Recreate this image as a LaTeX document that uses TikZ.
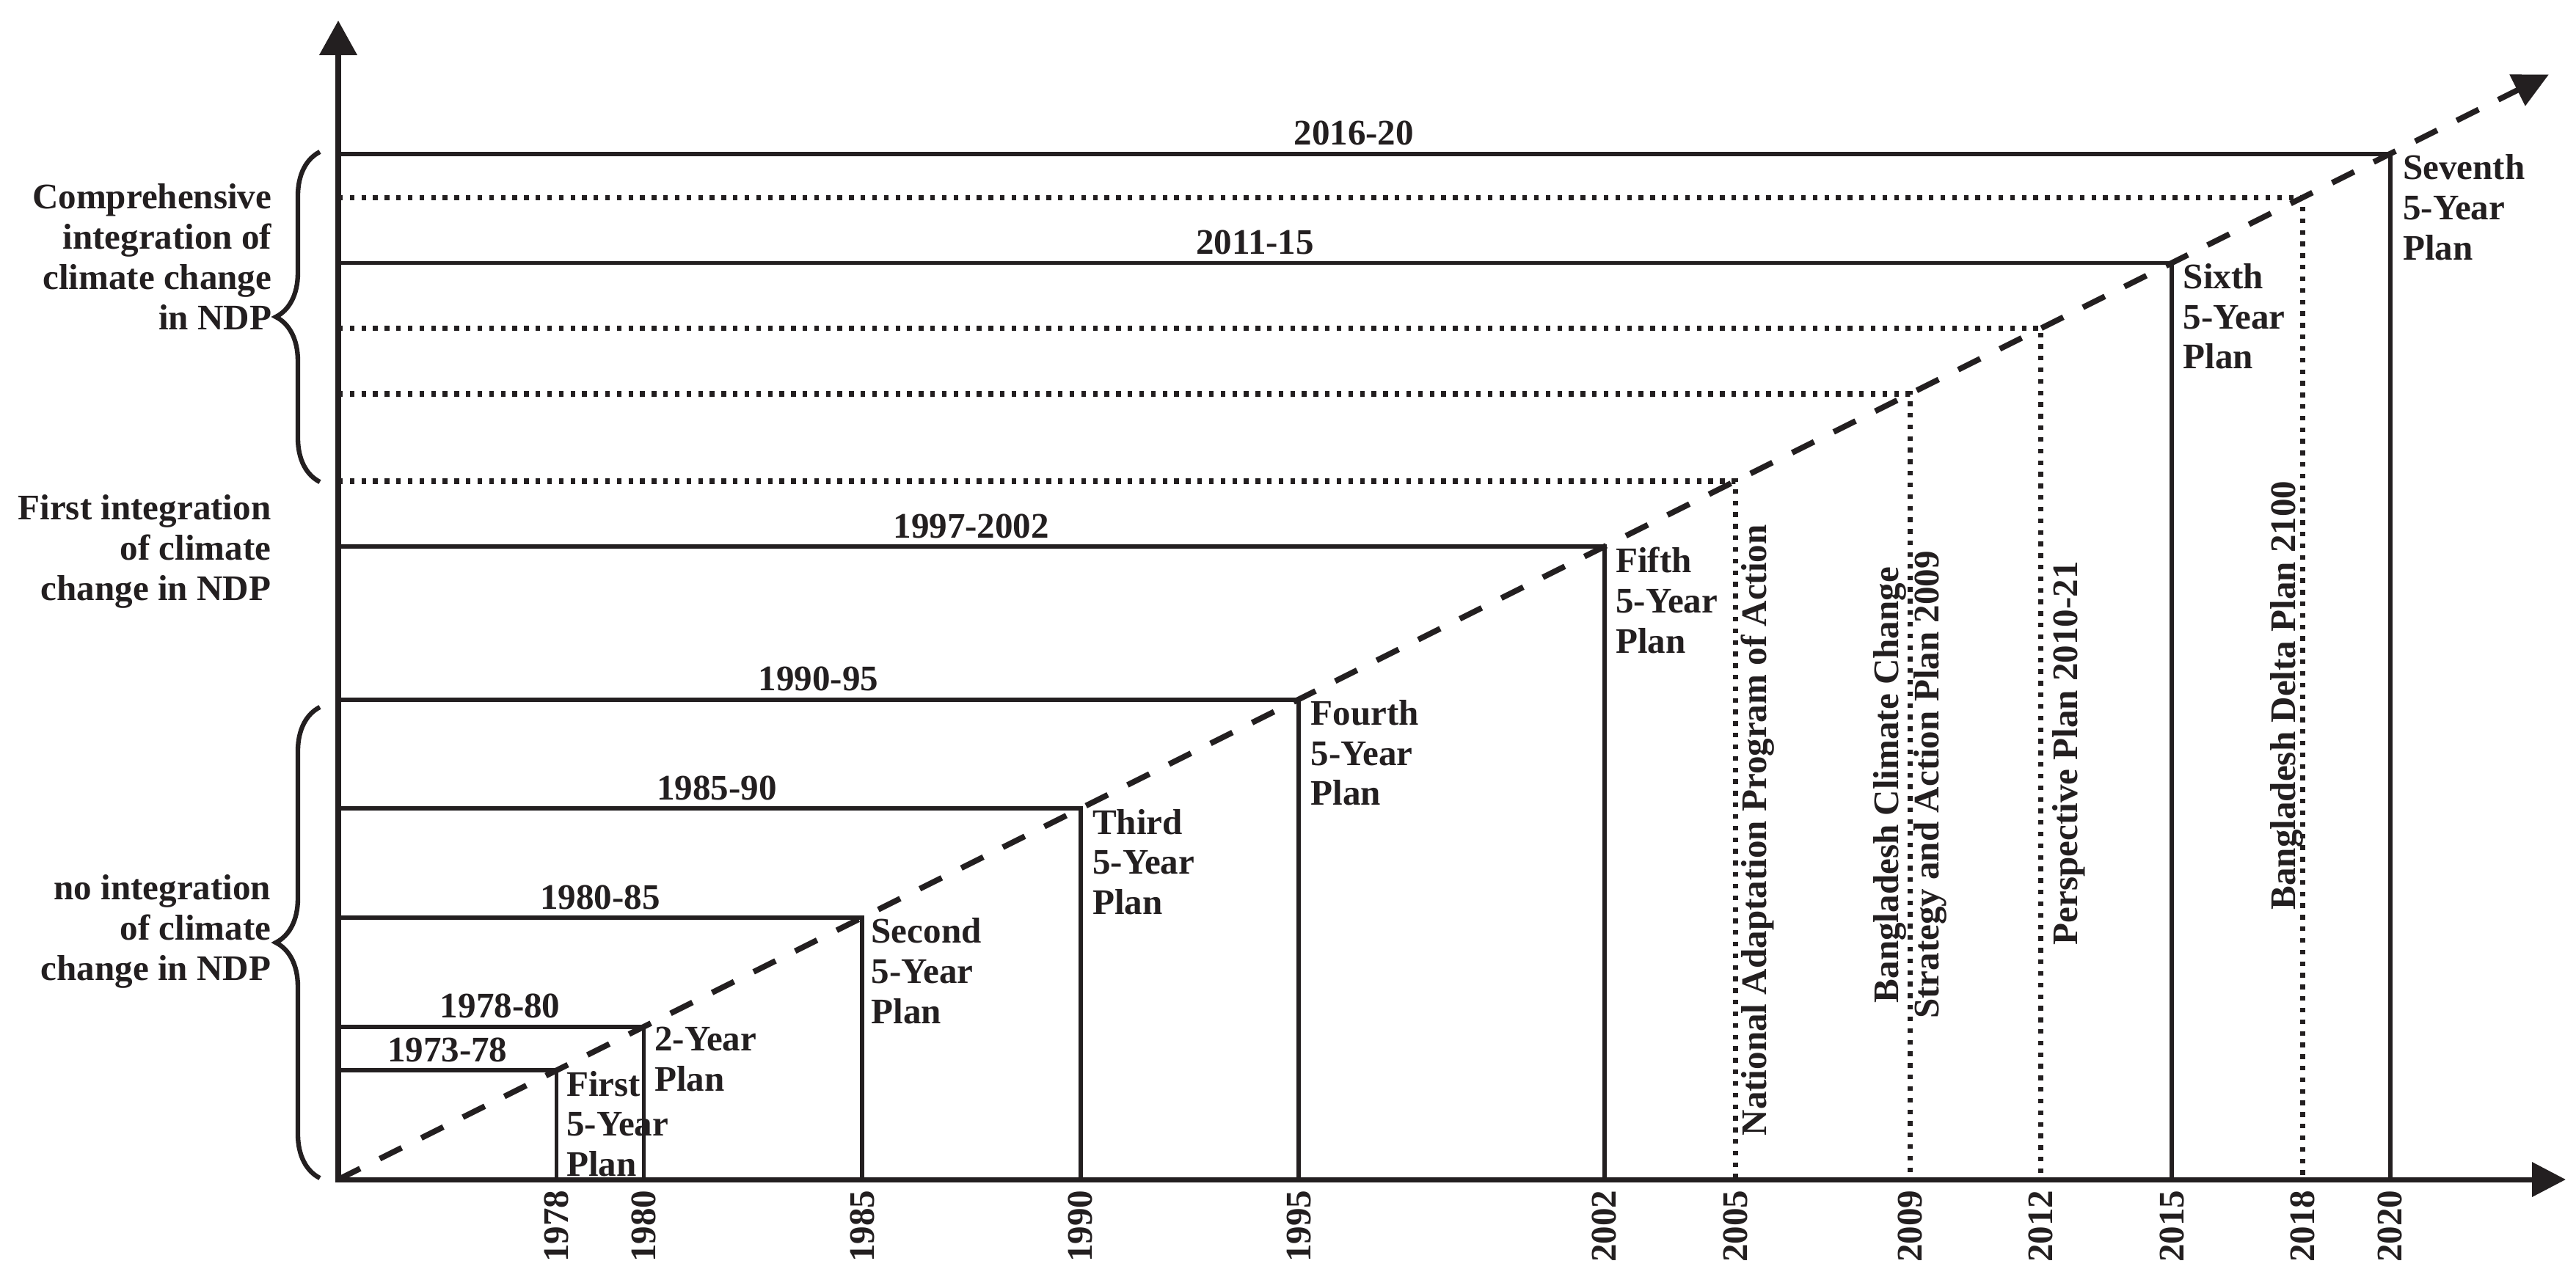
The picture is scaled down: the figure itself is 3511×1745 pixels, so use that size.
\documentclass[tikz,border=0pt]{standalone}
\usepackage{fontspec}
\setmainfont{Liberation Serif}
\usetikzlibrary{arrows.meta,decorations.pathreplacing,calc}
\definecolor{ink}{RGB}{35,31,32}
\begin{document}
\begin{tikzpicture}[x=0.01cm,y=-0.01cm,
  per/.style={font=\bfseries\fontsize{13.95pt}{15.6pt}\selectfont, text=ink},
  axisline/.style={line width=2pt, draw=ink},
  planline/.style={line width=1.7pt, draw=ink},
  dotline/.style={line width=2pt, draw=ink, dash pattern=on 1.8pt off 2.7pt},
  diag/.style={line width=2.2pt, draw=ink, dash pattern=on 9.5pt off 8.5pt},
  lab/.style={per, anchor=south, inner sep=2.4pt},
  plantext/.style={per, anchor=north west, align=left, inner sep=0pt},
  vtext/.style={per, rotate=90, inner sep=0pt},
  sidetext/.style={per, anchor=north east, align=right, inner sep=0pt},
  tick/.style={per, rotate=90, anchor=east, inner sep=0pt},
  bracel/.style={decorate, decoration={brace, amplitude=0.6cm}, line width=1.8pt, draw=ink}
]
\useasboundingbox (0,0) rectangle (3511,1745);
\coordinate (O) at (461,1608);
\coordinate (Ytop) at (461,28);
\coordinate (Xend) at (3497,1608);
\coordinate (Dend) at (3474,101.5);
\coordinate (T) at (0,1622);
\foreach \yr in {1978,1980,1985,1990,1995,2002,2005,2009,2012,2015,2018,2020}
  \coordinate (c\yr) at ({461+59.5*(\yr-1973)},{1608-29.75*(\yr-1973)});

% solid plan lines
\foreach \yr/\lab/\p in {1978/1973-78/0.5, 1980/1978-80/0.53, 1985/1980-85/0.5, 1990/1985-90/0.51, 1995/1990-95/0.5, 2002/1997-2002/0.5, 2015/2011-15/0.5, 2020/2016-20/0.495}
  {\draw[planline] (O |- c\yr) -- node[lab,pos=\p] (h\yr) {\lab} (c\yr) -- (c\yr |- O);}

% dotted policy lines
\foreach \yr in {2005,2009,2012,2018}
  {\draw[dotline] (O |- c\yr) -- (c\yr) -- (c\yr |- O);}

% axes
\draw[axisline, {Triangle[length=0.47cm,width=0.5cm]}-{Triangle[length=0.46cm,width=0.46cm]}] (Ytop) -- (O) -- (Xend);
% diagonal
\draw[diag, -{Triangle[length=0.48cm,width=0.46cm]}] (O) -- (Dend);

% plan texts
\node[plantext] (p1978) at ([xshift=0.13cm]c1978) {First\\5-Year\\Plan};
\node[plantext] (p1980) at ([xshift=0.14cm]c1980) {2-Year\\Plan};
\node[plantext] (p1985) at ([xshift=0.12cm]c1985) {Second\\5-Year\\Plan};
\node[plantext] (p1990) at ([xshift=0.16cm]c1990) {Third\\5-Year\\Plan};
\node[plantext] (p1995) at ([xshift=0.16cm]c1995) {Fourth\\5-Year\\Plan};
\node[plantext] (p2002) at ([xshift=0.15cm]c2002) {Fifth\\5-Year\\Plan};
\node[plantext] (p2015) at ([xshift=0.15cm]c2015) {Sixth\\5-Year\\Plan};
\node[plantext] (p2020) at ([xshift=0.17cm]c2020) {Seventh\\5-Year\\Plan};

% vertical policy texts
\node[vtext, anchor=north west] (napa) at (2372,1549) {National Adaptation Program of Action};
\node[vtext, anchor=center, align=center] (bccsap) at (2603,1070) {Bangladesh Climate Change\\Strategy and Action Plan 2009};
\node[vtext, anchor=north west] (pp) at (2797,1289) {Perspective Plan 2010-21};
\node[vtext, anchor=north west] (bdp) at (3094,1241) {Bangladesh Delta Plan 2100};

% side texts
\node[sidetext] (s1) at (371,250) {Comprehensive\\integration of\\climate change\\in NDP};
\node[sidetext] (s2) at (370,674) {First integration\\of climate\\change in NDP};
\node[sidetext] (s3) at (370,1192) {no integration\\of climate\\change in NDP};

% braces
\coordinate (b1a) at (436,657);
\coordinate (b1b) at (436,207);
\coordinate (b2a) at (436,1606);
\coordinate (b2b) at (436,964);
\draw[bracel] (b1a) -- (b1b);
\draw[bracel] (b2a) -- (b2b);

% year ticks
\foreach \yr in {1978,1980,1985,1990,1995,2002,2005,2009,2012,2015,2018,2020}
  \node[tick] (k\yr) at (c\yr |- T) {\yr};
\end{tikzpicture}
\end{document}
